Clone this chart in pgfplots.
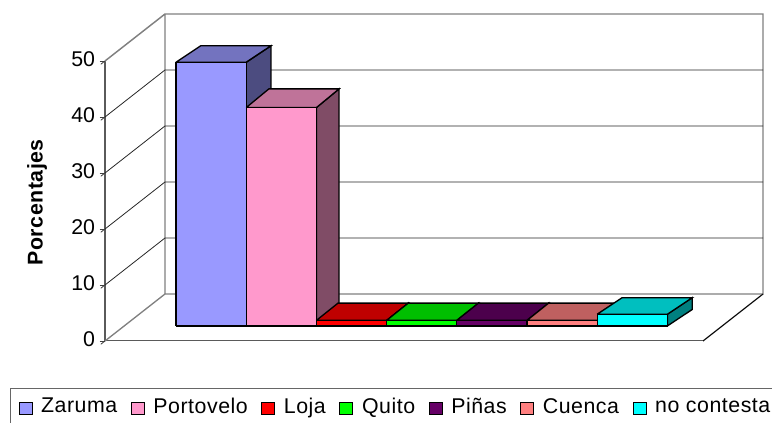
\documentclass[border=0pt]{standalone}
\usepackage{pgfplots}
\pgfplotsset{compat=1.18}
\usepackage{fontspec}
\setmainfont{Liberation Sans}
\newfontfamily\legfont[LetterSpace=2.5]{Liberation Sans}
\newfontfamily\ylabfont[LetterSpace=2.4]{Liberation Sans}
\definecolor{wallg}{HTML}{808080}
\newcommand{\onebar}[7]{%
% #1 left x, #2 right x, #3 back left x, #4 back right x, #5 value, #6 front colour, #7 back depth
\addplot3[forget plot,fill=#6!50!black,draw=black,line width=1pt,line join=miter] coordinates {(#2,0.319,0)(#4,#7,0)(#4,#7,#5)(#2,0.319,#5)(#2,0.319,0)};
\addplot3[forget plot,fill=#6!75!black,draw=black,line width=1pt,line join=miter] coordinates {(#1,0.319,#5)(#2,0.319,#5)(#4,#7,#5)(#3,#7,#5)(#1,0.319,#5)};
\addplot3[forget plot,fill=#6,draw=black,line width=1pt,line join=miter] coordinates {(#1,0.319,0)(#2,0.319,0)(#2,0.319,#5)(#1,0.319,#5)(#1,0.319,0)};
}
\pgfplotsset{legkey/.style={legend image code/.code={\draw[fill=#1,draw=black,line width=0.7pt] (0pt,0.55pt) rectangle (9.7pt,9.55pt);}}}
\begin{document}
\begin{tikzpicture}
\useasboundingbox (0,0) rectangle (579pt,317.25pt);
\clip (0,0) rectangle (579pt,317.25pt);
\begin{axis}[
  at={(78.75pt,61.5pt)},anchor=south west,
  x={(52.65pt,0pt)},y={(45pt,35.25pt)},z={(0pt,4.2pt)},
  xmin=-1.2386,xmax=7.28,ymin=0,ymax=1,zmin=0,zmax=50,
  enlargelimits=false,clip=false,
  axis lines=left,
  x axis line style={-,draw=wallg!70!black,line width=0.75pt},
  y axis line style={-,draw=wallg,line width=1pt},
  z axis line style={-,draw=wallg!70!black,line width=1pt},
  xtick=\empty,ytick=\empty,ztick={0,10,20,30,40,50},
  tick align=outside,major tick length=4pt,tick style={draw=black!75,line width=0.6pt},
  /pgf/number format/assume math mode=true,
  zticklabel style={anchor=east,font=\fontsize{16}{18}\selectfont,xshift=-0.75pt,yshift=3.7pt},
  zlabel={\textbf{Porcentajes}},
  every axis z label/.style={at={(axis description cs:-0.103,0.425)},anchor=center,rotate=90,font=\ylabfont\fontsize{16}{18}\selectfont},
  legend columns=-1,
  legend style={at={(axis description cs:-0.1444,-0.1437)},anchor=north west,draw=wallg!80!black,line width=0.9pt,
    font=\legfont\fontsize{16}{18}\selectfont,inner xsep=6pt,inner ysep=5pt,
    nodes={text depth=14pt},
    /tikz/every odd column/.append style={column sep=4.5pt},
    /tikz/every even column/.append style={column sep=8.2pt}},
]
% walls
\addplot3[forget plot,draw=wallg,line width=1.1pt] coordinates {(-1.2386,0,50)(-1.2386,1,50)(7.28,1,50)(7.28,1,0)(-1.2386,1,0)(-1.2386,1,50)};
\addplot3[forget plot,draw=wallg,line width=1pt] coordinates {(-1.2386,0,0)(-1.2386,1,0)};
\addplot3[forget plot,draw=black,line width=0.6pt] coordinates {(7.28,0,0)(7.28,1,0)};
\pgfplotsinvokeforeach{10,20,30,40}{
\addplot3[forget plot,draw=black!85,line width=0.6pt] coordinates {(-1.2386,0,#1)(-1.2386,1,#1)(7.28,1,#1)};
}
% bars: Zaruma, Portovelo, Loja, Quito, Pinas, Cuenca, no contesta
\definecolor{c1}{HTML}{9999FF}\definecolor{c2}{HTML}{FF99CC}\definecolor{c3}{HTML}{FF0000}\definecolor{c4}{HTML}{00FF00}\definecolor{c5}{HTML}{660066}\definecolor{c6}{HTML}{FF8080}\definecolor{c7}{HTML}{00FFFF}
\onebar{-0.5}{0.5}{-0.447}{0.553}{47.1}{c1}{0.67}
\onebar{0.5}{1.5}{0.483}{1.483}{39}{c2}{0.717}
\onebar{1.5}{2.5}{1.494}{2.494}{1}{c3}{0.687}
\onebar{2.5}{3.5}{2.494}{3.494}{1}{c4}{0.687}
\onebar{3.5}{4.5}{3.494}{4.494}{1}{c5}{0.687}
\onebar{4.5}{5.5}{4.494}{5.494}{1}{c6}{0.687}
\onebar{5.5}{6.5}{5.553}{6.553}{2.1}{c7}{0.67}
\addlegendimage{legkey=c1}\addlegendentry{Zaruma}
\addlegendimage{legkey=c2}\addlegendentry{Portovelo}
\addlegendimage{legkey=c3}\addlegendentry{Loja}
\addlegendimage{legkey=c4}\addlegendentry{Quito}
\addlegendimage{legkey=c5}\addlegendentry{Piñas}
\addlegendimage{legkey=c6}\addlegendentry{Cuenca}
\addlegendimage{legkey=c7}\addlegendentry{no contesta}
\end{axis}
\end{tikzpicture}
\end{document}
